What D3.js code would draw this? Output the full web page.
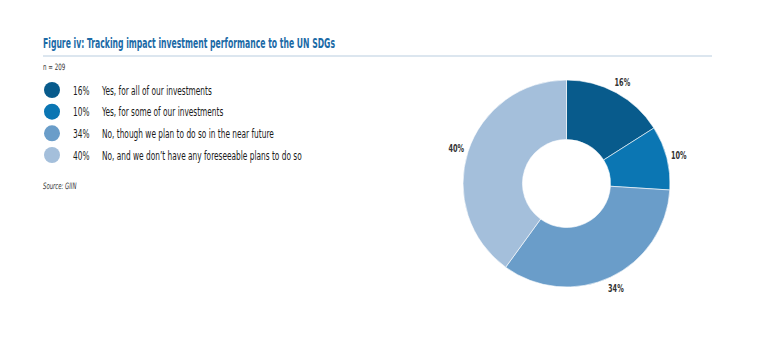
<!DOCTYPE html>
<html>
<head>
<meta charset="utf-8">
<script src="https://cdn.jsdelivr.net/npm/d3@7"></script>
<style>
  html, body { margin: 0; padding: 0; background: #ffffff; }
  svg { display: block; }
  text { font-family: "Liberation Sans Narrow", "DejaVu Sans Condensed", "Roboto Condensed", sans-serif; }
</style>
</head>
<body>
<svg id="chart" width="768" height="340"></svg>
<script>
const titleText = "Figure iv: Tracking impact investment performance to the UN SDGs";
const sampleText = "n = 209";
const sourceText = "Source: GIIN";
const categories = [
  "Yes, for all of our investments",
  "Yes, for some of our investments",
  "No, though we plan to do so in the near future",
  "No, and we don\u2019t have any foreseeable plans to do so"
];
const values = [16, 10, 34, 40];
const colors = ["#085b8c", "#0b76b3", "#6a9dc9", "#a4bfdb"];

const svg = d3.select("#chart");

function narrowText(parent, x, y, sx) {
  return parent.append("g")
    .attr("transform", `translate(${x},${y}) scale(${sx},1)`)
    .append("text");
}

// Title
svg.append("text")
  .attr("x", 43).attr("y", 48)
  .attr("fill", "#1b6aa6")
  .attr("font-size", 14.5)
  .attr("font-weight", "bold")
  .attr("textLength", 292).attr("lengthAdjust", "spacingAndGlyphs")
  .text(titleText);

svg.append("line")
  .attr("x1", 43).attr("x2", 712).attr("y1", 56).attr("y2", 56)
  .attr("stroke", "#b9cde0").attr("stroke-width", 1.2);

narrowText(svg, 43, 69.5, 0.7)
  .attr("fill", "#333")
  .attr("font-size", 8.8)
  .text(sampleText);

// Legend
const legendY = d3.scalePoint().domain(d3.range(categories.length)).range([90, 155]);
const rows = svg.append("g").selectAll("g").data(categories).join("g")
  .attr("transform", (d, i) => `translate(0,${legendY(i)})`);
rows.append("circle").attr("cx", 52).attr("cy", 0).attr("r", 8)
  .attr("fill", (d, i) => colors[i]);
rows.each(function(d, i) {
  const row = d3.select(this);
  narrowText(row, 73, 4.5, 0.67)
    .attr("font-size", 12.3).attr("fill", "#1a1a1a")
    .text(values[i] + "%");
  narrowText(row, 102, 4.5, 0.67)
    .attr("font-size", 12.3).attr("fill", "#1a1a1a")
    .text(d);
});

narrowText(svg, 43, 189, 0.68)
  .attr("font-size", 8.8).attr("font-style", "italic").attr("fill", "#333")
  .text(sourceText);

// Donut
const cx = 566.5, cy = 183.5, rOuter = 103.5, rInner = 44;
const pie = d3.pie().sort(null).value(d => d)(values);
const arc = d3.arc().innerRadius(rInner).outerRadius(rOuter);
const labelArc = d3.arc().innerRadius(116).outerRadius(116);
const g = svg.append("g").attr("transform", `translate(${cx},${cy})`);
g.selectAll("path").data(pie).join("path")
  .attr("d", arc)
  .attr("fill", (d, i) => colors[i])
  .attr("stroke", "#ffffff").attr("stroke-width", 0.6);
g.selectAll("g.lab").data(pie).join("g")
  .attr("class", "lab")
  .attr("transform", d => `translate(${labelArc.centroid(d)}) scale(0.66,1)`)
  .append("text")
  .attr("text-anchor", "middle").attr("dy", "0.35em")
  .attr("font-size", 11).attr("font-weight", "bold").attr("fill", "#333")
  .text(d => d.data + "%");
</script>
</body>
</html>
